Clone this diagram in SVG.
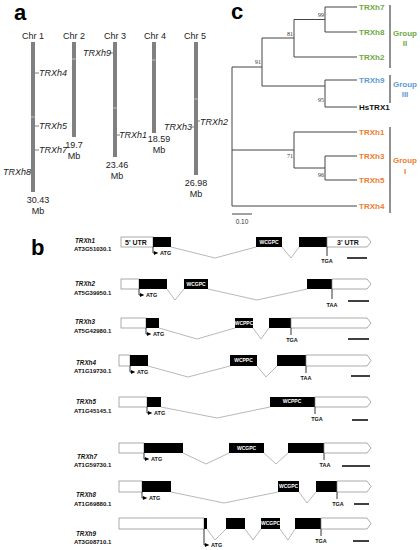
<svg xmlns="http://www.w3.org/2000/svg" width="420" height="550" viewBox="0 0 420 550">
<defs>
<marker id="ah" markerWidth="4" markerHeight="4" refX="3.5" refY="2" orient="auto" markerUnits="userSpaceOnUse"><path d="M0,0 L4,2 L0,4 Z" fill="#000"/></marker>
<style>
text{font-family:"Liberation Sans",Arial,sans-serif}
.pl{font-size:22px;font-weight:bold;fill:#000}
.chr{fill:#808080}
.chl{font-size:9px;fill:#222}
.gl{font-size:9px;font-style:italic;fill:#222}
.tick{stroke:#808080;stroke-width:1}
.br{stroke:#444;stroke-width:1;fill:none}
.bs{font-family:"Liberation Serif",serif;font-size:6px;fill:#333;text-anchor:end}
.lf{font-size:8px;font-weight:bold}
.gr{fill:#6fa845}.bl{fill:#5b9bd5}.or{fill:#ed7d31}
.bk{stroke:#555;stroke-width:1.3}
.gp{font-size:8px;font-weight:bold;text-anchor:middle}
.utr{fill:#fff;stroke:#888;stroke-width:0.7}
.ex{fill:#000}
.in{stroke:#999;stroke-width:0.7;fill:none}
.rn{font-size:6.3px;font-weight:bold;font-style:italic;fill:#111}
.ra{font-size:6px;font-weight:bold;fill:#111}
.mt{font-size:5px;font-weight:bold;fill:#fff;text-anchor:middle}
.cd{font-size:5.5px;font-weight:bold;fill:#111}
.cdm{font-size:5.5px;font-weight:bold;fill:#111;text-anchor:middle}
.ut{font-size:7px;font-weight:bold;fill:#111}
.ln{stroke:#000;stroke-width:0.8;fill:none}
.sb{stroke:#000;stroke-width:1.5}
</style>
</defs>

<g id="panel-a">
<text class="pl" x="14" y="20">a</text>
<g id="chr1"><text class="chl" x="33" y="39" text-anchor="middle">Chr 1</text><rect class="chr" x="31" y="42" width="4" height="150"/><line x1="31" y1="117" x2="35" y2="117" stroke="#ccc" stroke-width="0.8"/>
<line class="tick" x1="35" y1="73" x2="39" y2="73"/><text class="gl" x="39" y="76">TRXh4</text>
<line class="tick" x1="35" y1="126" x2="39" y2="126"/><text class="gl" x="39" y="129">TRXh5</text>
<line class="tick" x1="35" y1="150" x2="39" y2="150"/><text class="gl" x="39" y="153">TRXh7</text>
<line class="tick" x1="28" y1="172" x2="31" y2="172"/><text class="gl" x="3" y="175">TRXh8</text>
<text class="chl" x="38" y="203" text-anchor="middle">30.43</text><text class="chl" x="38" y="214" text-anchor="middle">Mb</text></g>
<g id="chr2"><text class="chl" x="74" y="39" text-anchor="middle">Chr 2</text><rect class="chr" x="72" y="42" width="4" height="95"/><line x1="72" y1="59" x2="76" y2="59" stroke="#ccc" stroke-width="0.8"/>
<text class="chl" x="74" y="148" text-anchor="middle">19.7</text><text class="chl" x="74" y="159" text-anchor="middle">Mb</text></g>
<g id="chr3"><text class="chl" x="115" y="39" text-anchor="middle">Chr 3</text><rect class="chr" x="113" y="42" width="4" height="115"/><line x1="113" y1="108" x2="117" y2="108" stroke="#ccc" stroke-width="0.8"/>
<line class="tick" x1="110" y1="53" x2="113" y2="53"/><text class="gl" x="83" y="56">TRXh9</text>
<line class="tick" x1="117" y1="135" x2="120" y2="135"/><text class="gl" x="119" y="138">TRXh1</text>
<text class="chl" x="117" y="168" text-anchor="middle">23.46</text><text class="chl" x="117" y="179" text-anchor="middle">Mb</text></g>
<g id="chr4"><text class="chl" x="155" y="39" text-anchor="middle">Chr 4</text><rect class="chr" x="152" y="42" width="4" height="91"/><line x1="152" y1="60" x2="156" y2="60" stroke="#ccc" stroke-width="0.8"/>
<text class="chl" x="159" y="142" text-anchor="middle">18.59</text><text class="chl" x="159" y="153" text-anchor="middle">Mb</text></g>
<g id="chr5"><text class="chl" x="195" y="39" text-anchor="middle">Chr 5</text><rect class="chr" x="194" y="42" width="4" height="133"/><line x1="194" y1="99" x2="198" y2="99" stroke="#ccc" stroke-width="0.8"/>
<line class="tick" x1="191" y1="127" x2="194" y2="127"/><text class="gl" x="164" y="130">TRXh3</text>
<line class="tick" x1="198" y1="121" x2="200" y2="121"/><text class="gl" x="200" y="125">TRXh2</text>
<text class="chl" x="196" y="186" text-anchor="middle">26.98</text><text class="chl" x="196" y="197" text-anchor="middle">Mb</text></g>
</g>

<g id="panel-c">
<text class="pl" x="231" y="19">c</text>
<g id="tree-branches" class="br">
<path d="M325,7H357M325,32H357M325,7V32M294,19.5H325M294,57H357M294,19.5V57M262,38H294"/>
<path d="M325,80H357M325,107H357M325,80V107M262,86H325M262,38V86M232,67H262"/>
<path d="M294,132H357M325,156H357M325,180H357M325,156V180M294,168H325M294,132V168M232,150H294M232,206H357M232,67V206"/>
</g>
<text class="bs" x="324" y="17">99</text>
<text class="bs" x="293" y="36">81</text>
<text class="bs" x="261" y="64">91</text>
<text class="bs" x="324" y="102">95</text>
<text class="bs" x="293" y="158">71</text>
<text class="bs" x="324" y="177">96</text>
<g id="leaves">
<text class="lf gr" x="359" y="10">TRXh7</text>
<text class="lf gr" x="359" y="35">TRXh8</text>
<text class="lf gr" x="359" y="60">TRXh2</text>
<text class="lf bl" x="359" y="83">TRXh9</text>
<text class="lf" x="359" y="110" fill="#111">HsTRX1</text>
<text class="lf or" x="359" y="135">TRXh1</text>
<text class="lf or" x="359" y="159">TRXh3</text>
<text class="lf or" x="359" y="183">TRXh5</text>
<text class="lf or" x="359" y="209">TRXh4</text>
</g>
<g id="group2"><line class="bk" x1="390" y1="5" x2="390" y2="68"/><text class="gp gr" x="405" y="36">Group</text><text class="gp gr" x="405" y="46">II</text></g>
<g id="group3"><line class="bk" x1="390" y1="75" x2="390" y2="103"/><text class="gp bl" x="405" y="87">Group</text><text class="gp bl" x="405" y="97">III</text></g>
<g id="group1"><line class="bk" x1="390" y1="127" x2="390" y2="213"/><text class="gp or" x="405" y="163">Group</text><text class="gp or" x="405" y="174">I</text></g>
<g id="scalebar"><line x1="232" y1="214" x2="252" y2="214" stroke="#444" stroke-width="1"/><text x="242" y="224" font-size="6.5" fill="#333" text-anchor="middle">0.10</text></g>
</g>

<g id="panel-b">
<text class="pl" x="31" y="255">b</text>

<g id="gene-trxh1">
<text class="rn" x="75" y="243">TRXh1</text><text class="ra" x="74" y="251">AT3G51030.1</text>
<rect class="utr" x="121" y="237" width="32" height="10"/>
<rect class="ex" x="153" y="237" width="18" height="10"/>
<polyline class="in" points="171,247 215,258 256,247"/>
<rect class="ex" x="256" y="237" width="26" height="10"/>
<polyline class="in" points="282,247 291,258 299,247"/>
<rect class="ex" x="299" y="237" width="28" height="10"/>
<path class="utr" d="M327,237H367L371,242L367,247H327Z"/>
<text class="ut" x="125" y="244.5">5' UTR</text><text class="ut" x="337" y="244.5">3' UTR</text>
<text class="mt" x="269" y="244">WCGPC</text>
<path class="ln" d="M153,247V253H157.5" marker-end="url(#ah)"/><text class="cd" x="160" y="255">ATG</text>
<line class="ln" x1="327" y1="247" x2="327" y2="256"/><text class="cdm" x="327" y="263">TGA</text>
<line class="sb" x1="347" y1="258" x2="367" y2="258"/>
</g>

<g id="gene-trxh2">
<text class="rn" x="75" y="286">TRXh2</text><text class="ra" x="74" y="295">AT5G39950.1</text>
<rect class="utr" x="121" y="279" width="18" height="10"/>
<rect class="ex" x="139" y="279" width="28" height="10"/>
<polyline class="in" points="167,289 175,300 184,289"/>
<rect class="ex" x="184" y="279" width="24" height="10"/>
<polyline class="in" points="208,289 257,300 307,289"/>
<rect class="ex" x="307" y="279" width="25" height="10"/>
<path class="utr" d="M332,279H367L371,284L367,289H332Z"/>
<text class="mt" x="196" y="286">WCGPC</text>
<path class="ln" d="M139,289V295H143.5" marker-end="url(#ah)"/><text class="cd" x="146" y="297">ATG</text>
<line class="ln" x1="332" y1="289" x2="332" y2="299"/><text class="cdm" x="332" y="307">TAA</text>
<line class="sb" x1="348" y1="301" x2="369" y2="301"/>
</g>

<g id="gene-trxh3">
<text class="rn" x="75" y="324">TRXh3</text><text class="ra" x="74" y="333">AT5G42980.1</text>
<rect class="utr" x="121" y="318" width="25" height="10"/>
<rect class="ex" x="146" y="318" width="13" height="10"/>
<polyline class="in" points="159,328 197,339 235,328"/>
<rect class="ex" x="235" y="318" width="18" height="10"/>
<polyline class="in" points="253,328 261,339 269,328"/>
<rect class="ex" x="269" y="318" width="22" height="10"/>
<path class="utr" d="M291,318H367L371,323L367,328H291Z"/>
<text class="mt" x="244" y="325">WCPPC</text>
<path class="ln" d="M146,328V334H150.5" marker-end="url(#ah)"/><text class="cd" x="153" y="336">ATG</text>
<line class="ln" x1="291" y1="328" x2="291" y2="335"/><text class="cdm" x="292" y="342">TGA</text>
<line class="sb" x1="348" y1="339" x2="369" y2="339"/>
</g>

<g id="gene-trxh4">
<text class="rn" x="76" y="365">TRXh4</text><text class="ra" x="74" y="373">AT1G19730.1</text>
<rect class="utr" x="119" y="355" width="11" height="11"/>
<rect class="ex" x="130" y="355" width="18" height="11"/>
<polyline class="in" points="148,366 188,377 230,366"/>
<rect class="ex" x="230" y="355" width="27" height="11"/>
<polyline class="in" points="257,366 266,377 277,366"/>
<rect class="ex" x="277" y="355" width="29" height="11"/>
<path class="utr" d="M306,355H367L371,360.5L367,366H306Z"/>
<text class="mt" x="243.5" y="362">WCPPC</text>
<path class="ln" d="M130,366V372H134.5" marker-end="url(#ah)"/><text class="cd" x="137" y="374">ATG</text>
<line class="ln" x1="306" y1="366" x2="306" y2="373"/><text class="cdm" x="306" y="380">TAA</text>
<line class="sb" x1="351" y1="376" x2="370" y2="376"/>
</g>

<g id="gene-trxh5">
<text class="rn" x="76" y="404">TRXh5</text><text class="ra" x="74" y="413">AT1G45145.1</text>
<rect class="utr" x="119" y="397" width="28" height="10"/>
<rect class="ex" x="147" y="397" width="14" height="10"/>
<polyline class="in" points="161,407 217,418 270,407"/>
<rect class="ex" x="270" y="397" width="45" height="10"/>
<path class="utr" d="M315,397H367L371,402L367,407H315Z"/>
<text class="mt" x="292" y="403">WCPPC</text>
<path class="ln" d="M147,407V413H151.5" marker-end="url(#ah)"/><text class="cd" x="154" y="415">ATG</text>
<line class="ln" x1="315" y1="407" x2="315" y2="414"/><text class="cdm" x="317" y="421">TGA</text>
<line class="sb" x1="352" y1="420" x2="368" y2="420"/>
</g>

<g id="gene-trxh7">
<text class="rn" x="77" y="459">TRXh7</text><text class="ra" x="74" y="467">AT1G59730.1</text>
<rect class="utr" x="119" y="443" width="25" height="10"/>
<rect class="ex" x="144" y="443" width="39" height="10"/>
<polyline class="in" points="183,453 206,464 229,453"/>
<rect class="ex" x="229" y="443" width="35" height="10"/>
<polyline class="in" points="264,453 276,464 288,453"/>
<rect class="ex" x="288" y="443" width="36" height="10"/>
<path class="utr" d="M324,443H367L371,448L367,453H324Z"/>
<text class="mt" x="246.5" y="450">WCGPC</text>
<path class="ln" d="M144,453V459H148.5" marker-end="url(#ah)"/><text class="cd" x="151" y="461">ATG</text>
<line class="ln" x1="324" y1="453" x2="324" y2="460"/><text class="cdm" x="325" y="467">TAA</text>
<line class="sb" x1="342" y1="466" x2="370" y2="466"/>
</g>

<g id="gene-trxh8">
<text class="rn" x="76" y="497">TRXh8</text><text class="ra" x="74" y="506">AT1G69880.1</text>
<rect class="utr" x="119" y="481" width="23" height="11"/>
<rect class="ex" x="142" y="481" width="29" height="11"/>
<polyline class="in" points="171,492 224,503 278,492"/>
<rect class="ex" x="278" y="481" width="21" height="11"/>
<polyline class="in" points="299,492 307,503 316,492"/>
<rect class="ex" x="316" y="481" width="21" height="11"/>
<path class="utr" d="M337,481H367L371,486.5L367,492H337Z"/>
<text class="mt" x="288.5" y="488">WCGPC</text>
<path class="ln" d="M142,492V498H146.5" marker-end="url(#ah)"/><text class="cd" x="149" y="500">ATG</text>
<line class="ln" x1="337" y1="492" x2="337" y2="499"/><text class="cdm" x="338" y="506">TGA</text>
<line class="sb" x1="354" y1="504" x2="369" y2="504"/>
</g>

<g id="gene-trxh9">
<text class="rn" x="76" y="536">TRXh9</text><text class="ra" x="74" y="544">AT3G08710.1</text>
<rect class="utr" x="119" y="518" width="85" height="11"/>
<rect class="ex" x="204" y="518" width="3" height="11"/>
<polyline class="in" points="207,529 215,540 226,529"/>
<rect class="ex" x="226" y="518" width="19" height="11"/>
<polyline class="in" points="245,529 253,540 261,529"/>
<rect class="ex" x="261" y="518" width="19" height="11"/>
<polyline class="in" points="280,529 288,540 295,529"/>
<rect class="ex" x="295" y="518" width="26" height="11"/>
<path class="utr" d="M321,518H367L371,523.5L367,529H321Z"/>
<text class="mt" x="270.5" y="525">WCGPC</text>
<path class="ln" d="M204,529V545H208.5" marker-end="url(#ah)"/><text class="cd" x="211" y="547">ATG</text>
<line class="ln" x1="321" y1="529" x2="321" y2="536"/><text class="cdm" x="321" y="543">TGA</text>
<line class="sb" x1="353" y1="541" x2="369" y2="541"/>
</g>
</g>
</svg>
